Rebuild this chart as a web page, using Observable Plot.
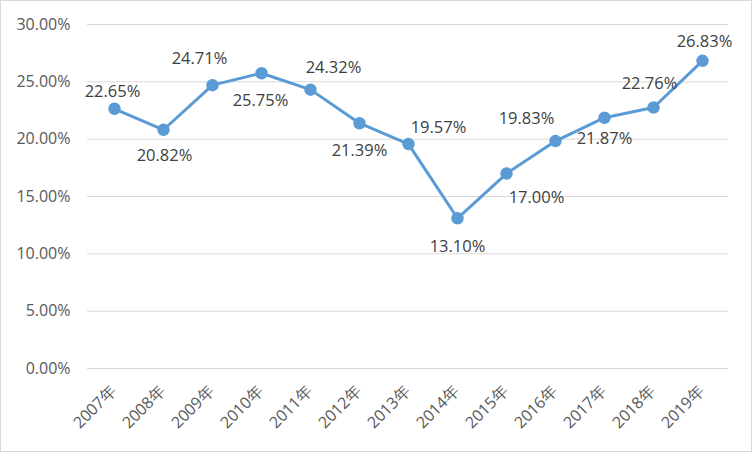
<!DOCTYPE html>
<html><head><meta charset="utf-8">
<script src="https://cdn.jsdelivr.net/npm/d3@7"></script>
<script src="https://cdn.jsdelivr.net/npm/@observablehq/plot@0.6"></script>
<style>
html,body{margin:0;padding:0;background:#fff;}
#wrap{position:relative;width:752px;height:452px;}
#border{position:absolute;left:0;top:0;width:750px;height:450px;border:1px solid #d9d9d9;pointer-events:none;}
</style>
</head><body>
<div id="wrap"><div id="chart"></div><div id="border"></div></div>
<script>
const years = ["2007年","2008年","2009年","2010年","2011年","2012年","2013年","2014年","2015年","2016年","2017年","2018年","2019年"];
const values = [22.65, 20.82, 24.71, 25.75, 24.32, 21.39, 19.57, 13.10, 17.00, 19.83, 21.87, 22.76, 26.83];
const yTicks = [0, 5, 10, 15, 20, 25, 30];

// label placement (offsets in px) keyed by year, mimicking the reference layout
const labelOffset = {
  "2007年": [-2, -17], "2008年": [1, 26], "2009年": [-13, -26], "2010年": [-1, 27],
  "2011年": [23, -22], "2012年": [0, 27], "2013年": [30, -16], "2014年": [0, 28],
  "2015年": [30, 24], "2016年": [-29, -22], "2017年": [0, 21], "2018年": [-4, -24],
  "2019年": [2, -19]
};

const data = years.map((y, i) => ({year: y, value: values[i]}));
const font = "'Open Sans', 'Liberation Sans', sans-serif";
const color = "#5b9bd5";

const chart = Plot.plot({
  width: 752, height: 452,
  marginLeft: 87, marginRight: 24, marginTop: 24, marginBottom: 84,
  style: {fontFamily: font, fontSize: "16px", color: "#595959", background: "transparent"},
  x: {type: "point", domain: years, padding: 0.5, label: null},
  y: {domain: [0, 30], label: null},
  marks: [
    Plot.ruleY(yTicks, {stroke: "#d9d9d9", strokeWidth: 1}),
    Plot.axisY({ticks: yTicks, tickSize: 0, tickPadding: 17, tickFormat: d => d.toFixed(2) + "%", fill: "#595959", fontSize: 16, label: null}),
    Plot.axisX({tickSize: 0, tickRotate: -45, tickPadding: 20, dx: -1, fill: "#595959", fontSize: 16, label: null}),
    Plot.line(data, {x: "year", y: "value", stroke: color, strokeWidth: 3}),
    Plot.dot(data, {x: "year", y: "value", r: 5.5, fill: color, stroke: color}),
    ...data.map(d => Plot.text([d], {
      x: "year", y: "value", text: v => v.value.toFixed(2) + "%",
      dx: labelOffset[d.year][0], dy: labelOffset[d.year][1],
      fill: "#404040", fontSize: 16.5
    }))
  ]
});
document.getElementById("chart").appendChild(chart);
</script>
</body></html>
